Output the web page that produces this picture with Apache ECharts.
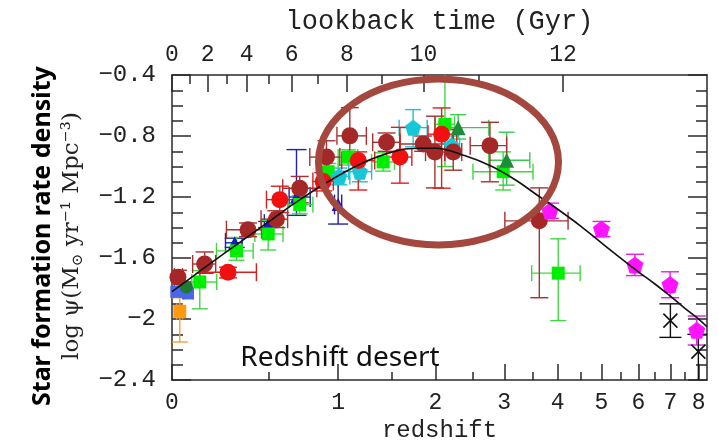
<!DOCTYPE html>
<html>
<head>
<meta charset="utf-8">
<script src="https://cdn.jsdelivr.net/npm/echarts@6/dist/echarts.min.js"></script>
<style>
  html, body { margin: 0; padding: 0; background: #ffffff; }
  #chart { width: 718px; height: 448px; }
</style>
</head>
<body>
<div id="chart"></div>
<script>
// Cosmic star formation rate density measurements.
// Each row: [z, log psi, zLow, zHigh, log psi low, log psi high]
const brownIR = [
  [0.025, -1.725, 0.01, 0.045, -1.77, -1.68],
  [0.146, -1.639, 0.09, 0.20, -1.70, -1.56],
  [0.373, -1.414, 0.255, 0.453, -1.46, -1.37],
  [0.546, -1.345, 0.45, 0.62, -1.40, -1.29],
  [0.704, -1.142, 0.587, 0.83, -1.238, -1.065],
  [0.905, -0.938, 0.777, 1.014, -1.088, -0.831],
  [1.10, -0.799, 0.99, 1.25, -0.961, -0.614],
  [1.448, -0.841, 1.31, 1.588, -0.90, -0.78],
  [1.852, -0.852, 1.588, 2.228, -0.90, -0.80],
  [1.995, -0.905, 1.88, 2.12, -1.14, -0.67],
  [2.233, -0.905, 2.12, 2.35, -1.024, -0.756],
  [2.768, -0.863, 2.47, 3.04, -1.10, -0.71],
  [3.63, -1.356, 3.01, 4.22, -1.86, -1.14]
];
const redIR = [
  [0.263, -1.693, 0.123, 0.422, -1.73, -1.66],
  [0.568, -1.217, 0.483, 0.681, -1.302, -1.129],
  [0.879, -1.098, 0.80, 0.96, -1.16, -1.04],
  [1.175, -0.96, 1.03, 1.33, -1.154, -0.904],
  [1.588, -0.938, 1.45, 1.72, -1.109, -0.743],
  [2.08, -0.788, 1.91, 2.28, -1.142, -0.616]
];
const greenUV = [
  [0.123, -1.757, 0.086, 0.205, -1.933, -1.682],
  [0.309, -1.553, 0.204, 0.403, -1.614, -1.465],
  [0.494, -1.442, 0.413, 0.589, -1.547, -1.354],
  [0.704, -1.249, 0.62, 0.80, -1.31, -1.19],
  [0.918, -1.034, 0.85, 1.0, -1.09, -0.98],
  [1.085, -0.938, 1.0, 1.17, -0.99, -0.89],
  [1.413, -0.97, 1.30, 1.53, -1.03, -0.91],
  [2.123, -0.723, 2.0, 2.25, -1.0, -0.38],
  [2.982, -1.034, 2.51, 3.51, -1.154, -0.904],
  [4.01, -1.699, 3.485, 4.49, -2.01, -1.474]
];
const darkGreenUV = [
  [2.30, -0.745, 2.05, 2.75, -0.82, -0.66],
  [3.04, -0.959, 2.75, 3.45, -1.122, -0.775]
];
const darkGreenLocal = [
  [0.062, -1.789, 0.045, 0.08, -1.81, -1.77]
];
const cyanUV = [
  [1.01, -1.065, 0.93, 1.10, -1.12, -1.01],
  [1.19, -1.034, 1.09, 1.30, -1.10, -0.97],
  [1.735, -0.745, 1.58, 1.90, -0.871, -0.627],
  [2.21, -0.863, 2.12, 2.32, -0.92, -0.80]
];
const blueUV = [
  [0.299, -1.50, 0.25, 0.34, -1.53, -1.47],
  [0.494, -1.378, 0.47, 0.52, -1.40, -1.36],
  [0.681, -1.20, 0.63, 0.78, -1.32, -0.889],
  [1.0, -1.249, 0.97, 1.03, -1.377, -1.032]
];
const royalBlueUV = [
  [0.018, -1.821, 0.005, 0.035, -1.85, -1.79],
  [0.069, -1.832, 0.05, 0.09, -1.86, -1.80]
];
const orangeUV = [
  [0.033, -1.95, 0.02, 0.045, -2.15, -1.86]
];
const magentaUV = [
  [3.84, -1.291, 3.84, 3.84, -1.34, -1.24],
  [5.0, -1.41, 5.0, 5.0, -1.46, -1.36],
  [5.90, -1.645, 5.90, 5.90, -1.715, -1.575],
  [6.99, -1.774, 6.99, 6.99, -1.86, -1.69],
  [7.93, -2.074, 7.93, 7.93, -2.17, -1.98]
];
const blackUV = [
  [7.0, -2.01, 7.0, 7.0, -2.12, -1.90],
  [7.99, -2.213, 7.99, 7.99, -2.50, -2.10]
];

// Best-fit star formation history
const fitZ = [0, 0.1, 0.2, 0.3, 0.5, 0.7, 1.0, 1.3, 1.6, 1.8, 2.0, 2.4, 2.8, 3.2, 3.6, 4.0, 4.5, 5.0, 5.5, 6.0, 6.5, 7.0, 7.5, 8.0, 8.32];
const fitLogPsi = [-1.82, -1.71, -1.61, -1.52, -1.36, -1.22, -1.06, -0.95, -0.89, -0.88, -0.88, -0.93, -1.00, -1.09, -1.19, -1.28, -1.39, -1.50, -1.60, -1.69, -1.77, -1.85, -1.93, -2.00, -2.05];

// Axis ticks
const redshiftTicks = [0, 1, 2, 3, 4, 5, 6, 7, 8];
const redshiftMinorTicks = [0.5, 1.5, 2.5, 3.5, 4.5, 5.5, 6.5, 7.5];
const lookbackTicks = [0, 2, 4, 6, 8, 10, 12];
const lookbackMinorTicks = [1, 3, 5, 7, 9, 11];
const Z_MAX = 8.32;

// Horizontal scale is log10(1 + z)
const lz = z => Math.log10(1 + z);

// Flat LCDM (H0 = 70, Om = 0.3, OL = 0.7) for the lookback-time axis
const OM = 0.3, OL = 0.7, T_HUBBLE = 977.8 / 70;
const A = 2 / (3 * Math.sqrt(OL)) * T_HUBBLE;
const B = Math.sqrt(OL / OM);
const ageAt = z => A * Math.asinh(B * Math.pow(1 + z, -1.5));
const T0 = ageAt(0);
const lookbackToAxis = t => Math.log10(Math.pow(Math.sinh((T0 - t) / A) / B, -2 / 3));
const axisToLookback = v => T0 - ageAt(Math.pow(10, v) - 1);

const toAxis = rows => rows.map(r => [lz(r[0]), r[1], lz(r[2]), lz(r[3]), r[4], r[5]]);

function errorBars(color, cap) {
  return function (params, api) {
    const v = i => api.value(i);
    const style = { stroke: color, lineWidth: 1.4, fill: null };
    const kids = [];
    const seg = (p, q) => kids.push({ type: 'line', shape: { x1: p[0], y1: p[1], x2: q[0], y2: q[1] }, style: style });
    if (v(2) !== v(3)) {
      const a = api.coord([v(2), v(1)]), b = api.coord([v(3), v(1)]);
      seg(a, b);
      seg([a[0], a[1] - cap], [a[0], a[1] + cap]);
      seg([b[0], b[1] - cap], [b[0], b[1] + cap]);
    }
    if (v(4) !== v(5)) {
      const a = api.coord([v(0), v(4)]), b = api.coord([v(0), v(5)]);
      seg(a, b);
      seg([a[0] - cap, a[1]], [a[0] + cap, a[1]]);
      seg([b[0] - cap, b[1]], [b[0] + cap, b[1]]);
    }
    return { type: 'group', children: kids };
  };
}

const PENTAGON = 'path://M0,-10L9.51,-3.09L5.88,8.09L-5.88,8.09L-9.51,-3.09Z';
const CROSS = 'path://M-10,-10L10,10M10,-10L-10,10';

const groups = [
  { rows: orangeUV, bar: '#f5a030', fill: '#ff9a10', symbol: 'rect', size: 13, cap: 8 },
  { rows: royalBlueUV, bar: '#4a66e0', fill: '#4766e8', symbol: 'rect', size: 12, cap: 6 },
  { rows: darkGreenLocal, bar: '#1e6e30', fill: '#1e7a32', symbol: 'circle', size: 13, cap: 6 },
  { rows: blueUV, bar: '#2020b0', fill: '#1818c8', symbol: 'triangle', size: 13, cap: 10 },
  { rows: greenUV, bar: '#40d840', fill: '#00ee00', symbol: 'rect', size: 13, cap: 8 },
  { rows: darkGreenUV, bar: '#3cc850', fill: '#1e8c38', symbol: 'triangle', size: 15, cap: 8 },
  { rows: cyanUV, bar: '#20c0d0', fill: '#14c8d8', symbol: PENTAGON, size: 16, cap: 8 },
  { rows: brownIR, bar: '#a83030', fill: '#a52828', symbol: 'circle', size: 17, cap: 9 },
  { rows: redIR, bar: '#d82020', fill: '#f01010', symbol: 'circle', size: 17, cap: 9 },
  { rows: magentaUV, bar: '#e020e0', fill: '#ff14ff', symbol: PENTAGON, size: 17, cap: 9 },
  { rows: blackUV, bar: '#111111', fill: 'transparent', symbol: CROSS, size: 14, cap: 11, stroke: '#111111' }
];

const series = [];
groups.forEach(g => {
  series.push({
    type: 'custom',
    renderItem: errorBars(g.bar, g.cap),
    data: toAxis(g.rows),
    encode: { x: 0, y: 1 },
    clip: true,
    silent: true,
    z: 2
  });
});
groups.forEach(g => {
  series.push({
    type: 'scatter',
    data: toAxis(g.rows).map(r => [r[0], r[1]]),
    symbol: g.symbol,
    symbolSize: g.size,
    itemStyle: g.stroke
      ? { color: 'transparent', borderColor: g.stroke, borderWidth: 1.6, opacity: 1 }
      : { color: g.fill, opacity: 1 },
    silent: true,
    z: 3
  });
});
series.push({
  type: 'line',
  data: fitZ.map((z, i) => [lz(z), fitLogPsi[i]]),
  showSymbol: false,
  smooth: 0.4,
  lineStyle: { color: '#111111', width: 1.6 },
  silent: true,
  z: 4
});

const AX = '#2a2a2a';
const tickLine = { color: AX, width: 1.5 };
const labelFont = { fontFamily: 'Liberation Mono', fontSize: 23, color: '#222222' };
const baseX = {
  type: 'value', min: 0, max: lz(Z_MAX), splitLine: { show: false },
  axisLine: { show: false, onZero: false }, axisLabel: { show: false }, axisTick: { show: false }
};
// Extra axis carrying only a set of inward ticks
const tickX = (position, values, length) => Object.assign({}, baseX, {
  position: position,
  axisTick: { show: true, inside: true, length: length, lineStyle: tickLine, customValues: values }
});
const baseY = {
  type: 'value', min: -2.4, max: -0.4, interval: 0.4, splitLine: { show: false },
  axisLine: { show: true, onZero: false, lineStyle: tickLine },
  axisTick: { show: true, inside: true, length: 19, lineStyle: tickLine },
  minorTick: { show: true, splitNumber: 4, length: 11, lineStyle: tickLine },
  axisLabel: { show: false }
};

const chart = echarts.init(document.getElementById('chart'), null, { renderer: 'canvas' });
chart.setOption({
  animation: false,
  backgroundColor: '#ffffff',
  grid: { left: 172, right: 11, top: 75, bottom: 62 },
  xAxis: [
    Object.assign({}, baseX, {
      position: 'bottom',
      axisLine: { show: true, onZero: false, lineStyle: tickLine },
      axisTick: { show: true, inside: true, length: 16, lineStyle: tickLine, customValues: redshiftTicks.map(lz) },
      axisLabel: Object.assign({ show: true, margin: 11, customValues: redshiftTicks.map(lz),
        formatter: v => String(Math.round(Math.pow(10, v) - 1)) }, labelFont),
      name: 'redshift', nameLocation: 'middle', nameGap: 31,
      nameTextStyle: { fontFamily: 'Liberation Mono', fontSize: 24, color: '#222222' }
    }),
    Object.assign({}, baseX, {
      position: 'top',
      axisLine: { show: true, onZero: false, lineStyle: tickLine },
      axisTick: { show: true, inside: true, length: 17, lineStyle: tickLine, customValues: lookbackTicks.map(lookbackToAxis) },
      axisLabel: Object.assign({ show: true, margin: 9, customValues: lookbackTicks.map(lookbackToAxis),
        formatter: v => String(Math.round(axisToLookback(v))) }, labelFont),
      name: 'lookback time (Gyr)', nameLocation: 'middle', nameGap: 40,
      nameTextStyle: { fontFamily: 'Liberation Mono', fontSize: 27, color: '#222222' }
    }),
    tickX('bottom', redshiftMinorTicks.map(lz), 8),
    tickX('top', lookbackMinorTicks.map(lookbackToAxis), 9)
  ],
  yAxis: [
    Object.assign({}, baseY, {
      position: 'left',
      axisLabel: Object.assign({ show: true, margin: 16, padding: [6, 0, 0, 0],
        formatter: v => (v < 0 ? '\u2212' : '') + String(Number(Math.abs(v).toFixed(1))) }, labelFont, { fontSize: 24 }),
      name: '{t|Star formation rate density}\n{s|log \u03c8(M}{sub|\u2299}{s| yr\u207b\u00b9 Mpc\u207b\u00b3)}',
      nameLocation: 'middle', nameRotate: 90, nameGap: 86,
      nameTextStyle: {
        padding: [0, 17, 0, 0],
        rich: {
          t: { fontFamily: 'Noto Sans', fontWeight: 'bold', fontSize: 25, lineHeight: 30, color: '#000000' },
          s: { fontFamily: 'DejaVu Serif', fontSize: 23, lineHeight: 28, color: '#222222' },
          sub: { fontFamily: 'DejaVu Serif', fontSize: 15, lineHeight: 28, color: '#222222', verticalAlign: 'bottom' }
        }
      }
    }),
    Object.assign({}, baseY, { position: 'right' })
  ],
  series: series
});

// Highlight ring around the peak epoch and the annotation text
const ringCenter = chart.convertToPixel({ xAxisIndex: 0, yAxisIndex: 0 }, [lz(2.04), -0.97]);
const desertPos = chart.convertToPixel({ xAxisIndex: 0, yAxisIndex: 0 }, [lz(0.33), -2.255]);
chart.setOption({
  graphic: [
    {
      type: 'ellipse', z: 100, silent: true,
      shape: { cx: ringCenter[0], cy: ringCenter[1], rx: 120, ry: 83 },
      style: { fill: null, stroke: '#a3473f', lineWidth: 7 }
    },
    {
      type: 'text', z: 100, silent: true,
      x: desertPos[0], y: desertPos[1],
      style: { text: 'Redshift desert', font: '28px "Noto Sans"', fill: '#111111', textAlign: 'left', textVerticalAlign: 'middle' }
    }
  ]
});
</script>
</body>
</html>
